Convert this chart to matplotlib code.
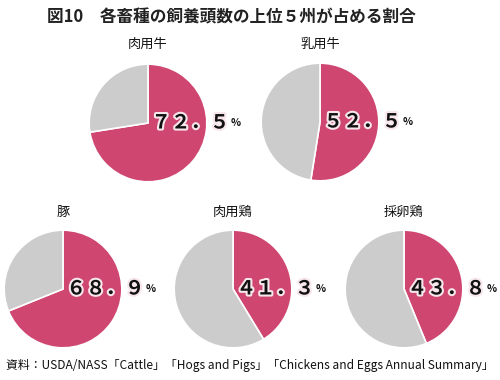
import matplotlib
matplotlib.use("Agg")
import matplotlib.pyplot as plt
import matplotlib.patheffects as pe

plt.rcParams['font.family'] = ['Noto Sans CJK JP', 'DejaVu Sans']

title = "図10　各畜種の飼養頭数の上位５州が占める割合"
categories = ["肉用牛", "乳用牛", "豚", "肉用鶏", "採卵鶏"]
shares = [72.5, 52.5, 68.9, 41.3, 43.8]
labels = ["７２．５", "５２．５", "６８．９", "４１．３", "４３．８"]
source = "資料：USDA/NASS「Cattle」「Hogs and Pigs」「Chickens and Eggs Annual Summary」"

PINK = "#CF4670"
GREY = "#CCCCCC"

W, H = 500, 380
fig = plt.figure(figsize=(W / 100, H / 100), dpi=100)

# pie centers in pixels (x, y from top) and radius
centers = [(148, 123), (320, 122), (63, 289), (233, 289), (404, 289)]
R = 60
title_y = [44, 44, 212, 212, 212]

for cat, v, lab, (cx, cy), ty in zip(categories, shares, labels, centers, title_y):
    ax = fig.add_axes([(cx - R) / W, 1 - (cy + R) / H, 2 * R / W, 2 * R / H])
    ax.pie([v, 100 - v], colors=[PINK, GREY], startangle=90, counterclock=False,
           radius=1, wedgeprops=dict(edgecolor="white", linewidth=1.2))
    ax.set_xlim(-1.02, 1.02)
    ax.set_ylim(-1.02, 1.02)
    ax.set_aspect("equal")
    ax.axis("off")
    t = ax.text(0.06, 0.0, lab, fontsize=14, fontweight="bold", ha="left", va="center",
                color="#111111",
                path_effects=[pe.withStroke(linewidth=3, foreground="#f7e6eb")])
    ax.annotate("%", xy=(1.0, 0.22), xycoords=t, xytext=(0.8, 0), textcoords="offset points",
                fontsize=7.5, fontweight="bold", ha="left", va="bottom", color="#111111")
    fig.text(cx / W, 1 - ty / H, cat, fontsize=9.5, ha="center", va="center", color="#111111")

fig.text(47 / W, 1 - 17 / H, title, fontsize=12, fontweight="bold", ha="left", va="center",
         color="#222222")
fig.text(6 / W, 1 - 365 / H, source, fontsize=8.6, ha="left", va="center", color="#111111")

fig.savefig("out.png", dpi=100)
